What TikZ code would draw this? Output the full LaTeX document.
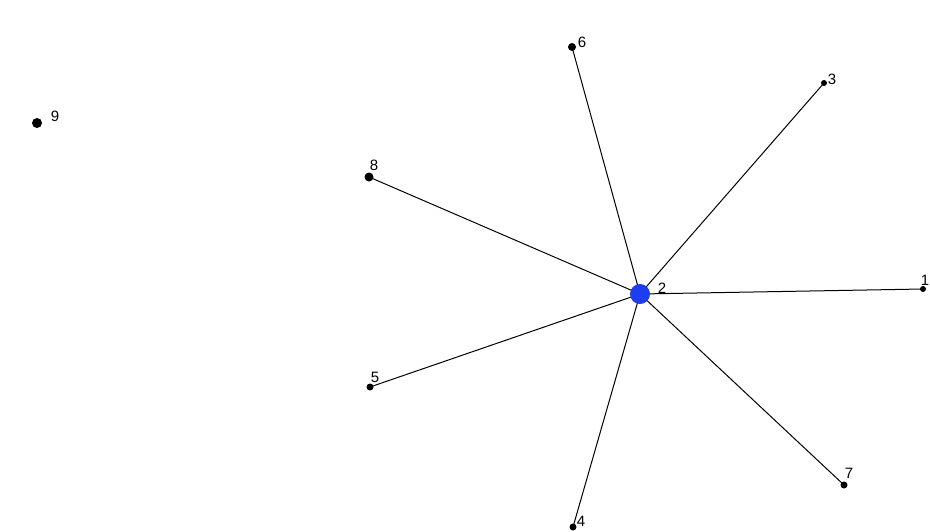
\documentclass[tikz,border=0pt]{standalone}
\usepackage{fontspec}
\setmainfont{Liberation Sans}
\begin{document}
\begin{tikzpicture}[x=1pt,y=-1pt,
  vtx/.style={circle,fill=black,inner sep=0pt,minimum size=#1},
  vtx/.default=7pt,
  hub/.style={circle,fill={rgb,255:red,30;green,60;blue,240},inner sep=0pt,minimum size=20pt},
  lbl/.style={inner sep=0pt,font=\fontsize{15}{15}\selectfont},
  edge/.style={draw=black,line width=1pt}]
\useasboundingbox[fill=white] (0,0) rectangle (930,531);
% edges first (drawn from coordinates so dots sit on top)
\coordinate (c2) at (640,294);
\coordinate (c1) at (923,289);
\coordinate (c3) at (824,83);
\coordinate (c4) at (573,527);
\coordinate (c5) at (370,387);
\coordinate (c6) at (572,47);
\coordinate (c7) at (844,485);
\coordinate (c8) at (369,177);
\foreach \t in {c1,c3,c4,c5,c6,c7,c8}
  \draw[edge] (c2) -- (\t);
% vertices
\node[vtx=10pt] (n9) at (37,123) {};
\node[vtx=8pt] (n6) at (c6) {};
\node[vtx=6pt] (n3) at (c3) {};
\node[vtx=9pt] (n8) at (c8) {};
\node[hub] (n2) at (c2) {};
\node[vtx=6pt] (n1) at (c1) {};
\node[vtx=7pt] (n5) at (c5) {};
\node[vtx=7pt] (n7) at (c7) {};
\node[vtx=7pt] (n4) at (c4) {};
% labels
\node[lbl] (l9) at (55,116) {9};
\node[lbl] (l6) at (582,42) {6};
\node[lbl] (l3) at (832,79) {3};
\node[lbl] (l8) at (374,165) {8};
\node[lbl] (l2) at (662,288) {2};
\node[lbl] (l1) at (925,280) {1};
\node[lbl] (l5) at (375,377) {5};
\node[lbl] (l7) at (849,473) {7};
\node[lbl] (l4) at (581,521) {4};
\end{tikzpicture}
\end{document}
